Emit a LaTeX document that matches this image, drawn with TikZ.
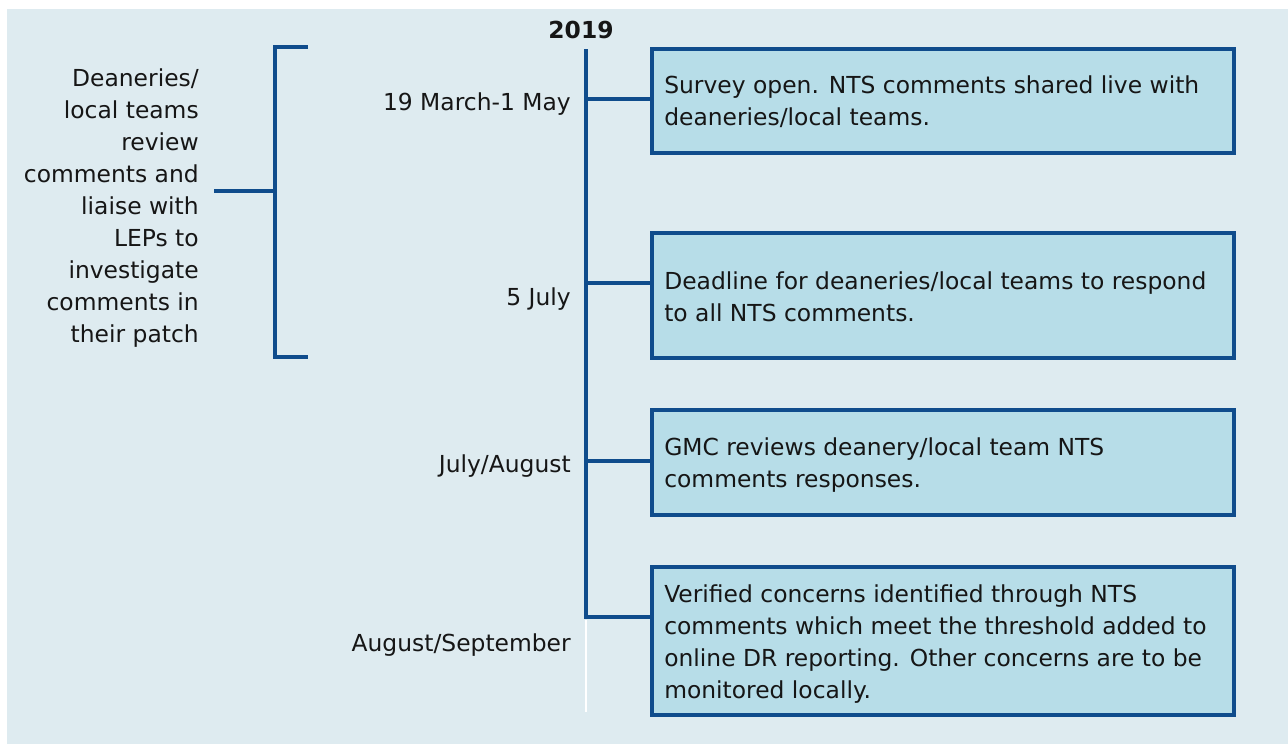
\documentclass[tikz,border=0pt]{standalone}
\usepackage{fontspec}
\setmainfont{DejaVu Sans}
\definecolor{bgc}{HTML}{DEEBF0}
\definecolor{boxfill}{HTML}{B7DDE8}
\definecolor{lineblue}{HTML}{0F4C8C}
\definecolor{txt}{HTML}{161616}
\begin{document}
\begin{tikzpicture}[x=0.75pt,y=-0.75pt,
  font=\fontsize{17.55pt}{24pt}\selectfont,
  tline/.style={draw=lineblue, line width=2.7pt},
  evbox/.style={draw=lineblue, fill=boxfill, line width=3pt, inner sep=0pt,
    minimum width=436.5pt, anchor=north west},
  lbl/.style={inner sep=0pt, text=txt}]
\useasboundingbox (0,0) rectangle (1288,744);
\fill[bgc] (7,9) rectangle (1288,744);

% year
\node[lbl, anchor=base, font=\fontsize{17.55pt}{24pt}\selectfont\bfseries] (year) at (581,38) {2019};

% timeline
\coordinate (ttop) at (586,49);
\coordinate (t1) at (586,99);
\coordinate (t2) at (586,283);
\coordinate (t3) at (586,461);
\coordinate (t4) at (586,617);
\coordinate (tend) at (586,712);

% boxes
\node[evbox, minimum height=78pt] (b1) at (650,47) {};
\node[evbox, minimum height=93.75pt] (b2) at (650,231) {};
\node[evbox, minimum height=78.75pt] (b3) at (650,408) {};
\node[evbox, minimum height=111pt] (b4) at (650,565) {};

\draw[tline, line join=miter] (ttop) -- (t4) -- (t4 -| b4.west);
\draw[tline] (t1) -- (t1 -| b1.west);
\draw[tline] (t2) -- (t2 -| b2.west);
\draw[tline] (t3) -- (t3 -| b3.west);
\draw[white, line width=0.8pt] ([yshift=-2pt]t4) -- (tend);

% box texts (base anchor = baseline of the last line)
\node[lbl, anchor=base west, align=left] (x1) at (664,125) {Survey open. NTS comments shared live with\\deaneries/local teams.};
\node[lbl, anchor=base west, align=left] (x2) at (664,321) {Deadline for deaneries/local teams to respond\\to all NTS comments.};
\node[lbl, anchor=base west, align=left] (x3) at (664,487) {GMC reviews deanery/local team NTS\\comments responses.};
\node[lbl, anchor=base west, align=left] (x4) at (664,698) {Verified concerns identified through NTS\\comments which meet the threshold added to\\online DR reporting. Other concerns are to be\\monitored locally.};

% dates
\node[lbl, anchor=base east] (d1) at (571,110) {19 March-1 May};
\node[lbl, anchor=base east] (d2) at (571,305) {5 July};
\node[lbl, anchor=base east] (d3) at (571,472) {July/August};
\node[lbl, anchor=base east] (d4) at (571,651) {August/September};

% bracket
\coordinate (bt) at (308,47);
\coordinate (bb) at (308,357);
\coordinate (bm) at (275,191);
\draw[tline, line join=miter] (bt) -- (275,47) -- (275,357) -- (bb);
\node[lbl, anchor=base east, align=right] (lt) at (199,342) {Deaneries/\\local teams\\review\\comments and\\liaise with\\LEPs to\\investigate\\comments in\\their patch};
\draw[tline] (bm) -- (bm -| 214,0) coordinate (stub);
\end{tikzpicture}
\end{document}
